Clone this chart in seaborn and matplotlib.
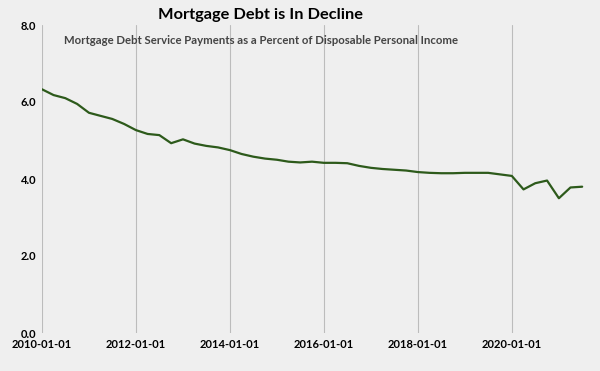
import matplotlib
matplotlib.use("Agg")
import matplotlib.pyplot as plt
import matplotlib.dates as mdates
import pandas as pd
import seaborn as sns

dates = pd.date_range("2010-01-01", periods=47, freq="QS")
values = [6.33, 6.18, 6.10, 5.95, 5.72, 5.64, 5.56, 5.43, 5.27, 5.17,
          5.14, 4.93, 5.03, 4.92, 4.86, 4.82, 4.75, 4.65, 4.58, 4.53,
          4.50, 4.45, 4.43, 4.45, 4.42, 4.42, 4.41, 4.34, 4.29, 4.26,
          4.24, 4.22, 4.18, 4.16, 4.15, 4.15, 4.16, 4.16, 4.16, 4.12,
          4.08, 3.73, 3.89, 3.96, 3.50, 3.78, 3.80]
title = "Mortgage Debt is In Decline"
subtitle = "Mortgage Debt Service Payments as a Percent of Disposable Personal Income"
y_ticks = [0.0, 2.0, 4.0, 6.0, 8.0]

df = pd.DataFrame({"date": dates, "value": values})

sns.set_theme(style="white")
plt.rcParams["font.family"] = ["Lato", "DejaVu Sans"]

bg = "#efefef"
fig = plt.figure(figsize=(6, 3.71), dpi=100, facecolor=bg)
ax = fig.add_axes([42/600, 38/371, 556/600, 308/371], facecolor=bg)

sns.lineplot(data=df, x="date", y="value", ax=ax, color="#2d5a1b", linewidth=1.6)

ax.set_xlim(pd.Timestamp("2010-01-01"), pd.Timestamp("2021-11-01"))
ax.set_ylim(0, 8)
ax.set_yticks(y_ticks)
ax.set_yticklabels([f"{v:.1f}" for v in y_ticks], fontsize=8, fontweight="bold", color="black")
ax.xaxis.set_major_locator(mdates.YearLocator(2))
ax.xaxis.set_major_formatter(mdates.DateFormatter("%Y-%m-%d"))
for lab in ax.get_xticklabels():
    lab.set_fontsize(8)
    lab.set_fontweight("bold")
    lab.set_color("black")
ax.tick_params(axis="both", length=0, pad=4)
ax.grid(axis="x", color="#bcbcbc", linewidth=0.8)
ax.grid(axis="y", visible=False)
for s in ax.spines.values():
    s.set_visible(False)
ax.set_xlabel("")
ax.set_ylabel("")

fig.text(261/600, 1 - 15/371, title, ha="center", va="center", fontsize=11.8, fontweight="bold", color="black")
fig.text(261/600, 1 - 40/371, subtitle, ha="center", va="center", fontsize=8.2, fontweight="bold", color="#444444")

fig.savefig("out.png", dpi=100, facecolor=bg)
